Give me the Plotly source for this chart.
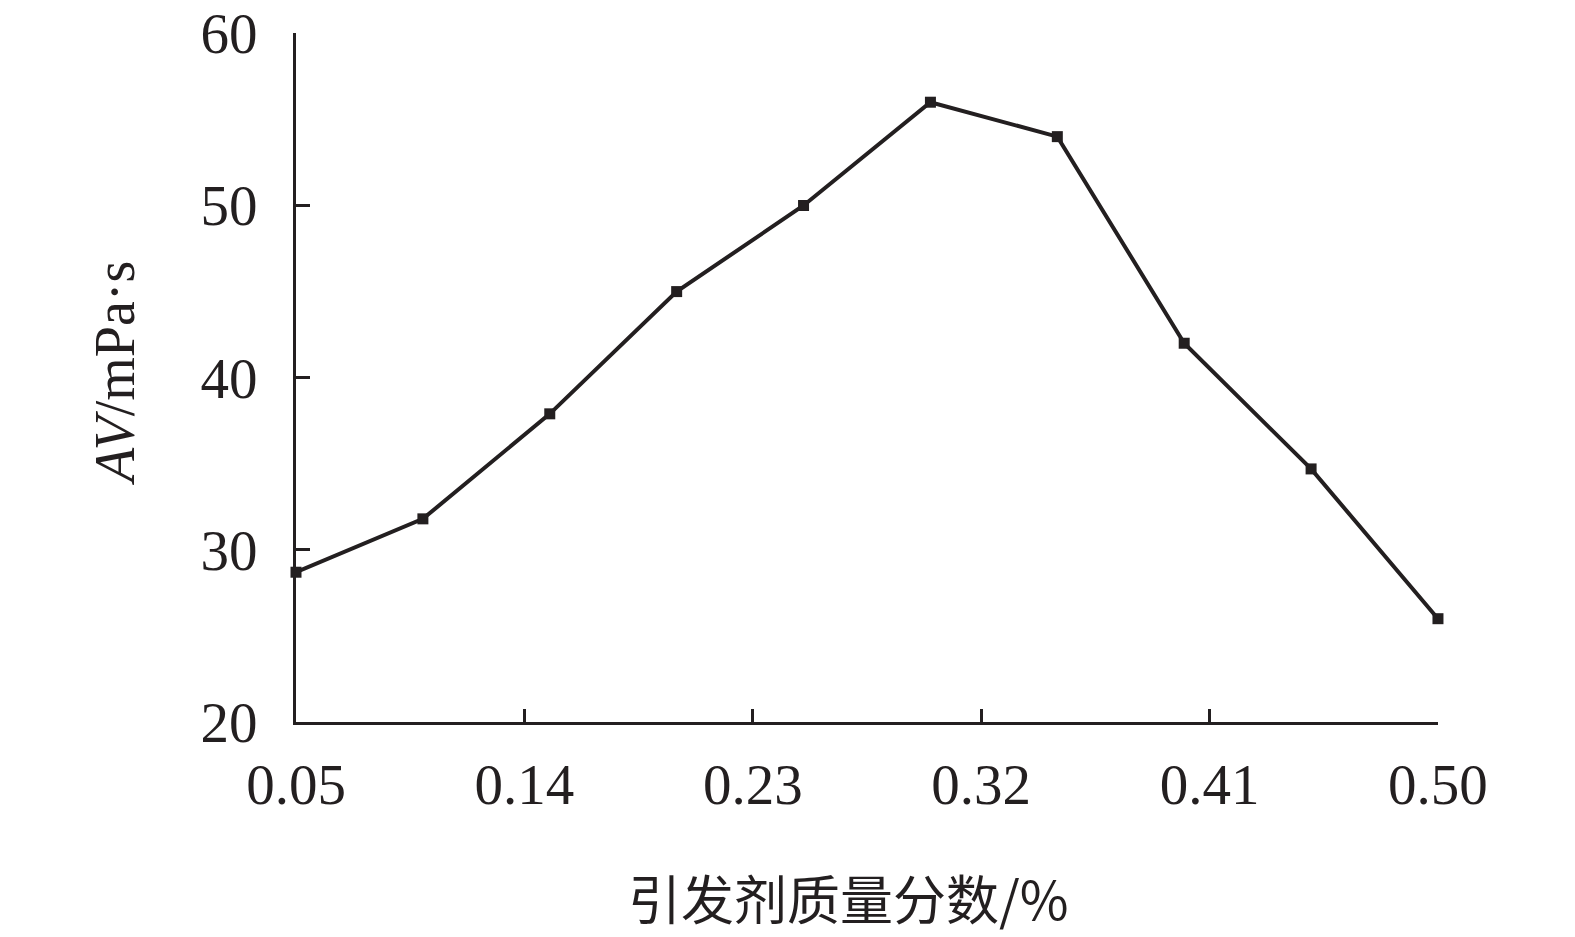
import plotly.graph_objects as go

x_vals = [0.05, 0.10, 0.15, 0.20, 0.25, 0.30, 0.35, 0.40, 0.45, 0.50]
av_vals = [28.7, 31.8, 37.9, 45.0, 50.0, 56.0, 54.0, 42.0, 34.7, 26.0]
x_ticks = [0.05, 0.14, 0.23, 0.32, 0.41, 0.50]
x_ticktext = ["0.05", "0.14", "0.23", "0.32", "0.41", "0.50"]
y_ticks = [20, 30, 40, 50, 60]

ink = "#231f20"
serif = "Liberation Serif, Times New Roman, Noto Sans CJK SC, serif"

fig = go.Figure()
fig.add_trace(go.Scatter(
    x=x_vals, y=av_vals, mode="lines+markers",
    line=dict(color=ink, width=4),
    marker=dict(symbol="square", size=11, color=ink),
    cliponaxis=False, showlegend=False,
))

fig.update_layout(
    width=1575, height=937,
    margin=dict(l=296, r=137, t=33, b=215, autoexpand=False),
    paper_bgcolor="white", plot_bgcolor="white",
    font=dict(family=serif, size=57, color=ink),
    xaxis=dict(
        range=[0.05, 0.50001], tickvals=x_ticks, ticktext=x_ticktext,
        showgrid=False, zeroline=False, showline=True, linecolor=ink, linewidth=3,
        ticks="inside", ticklen=13, tickwidth=2.5, tickcolor=ink,
        tickfont=dict(family=serif, size=57, color=ink),
        ticklabelstandoff=11, automargin=False,
    ),
    yaxis=dict(
        range=[20, 60.02], tickvals=y_ticks,
        showgrid=False, zeroline=False, showline=True, linecolor=ink, linewidth=3,
        ticks="inside", ticklen=14, tickwidth=2.5, tickcolor=ink,
        tickfont=dict(family=serif, size=57, color=ink),
        ticklabelstandoff=24, automargin=False,
    ),
    annotations=[
        dict(text="引发剂质量分数/%", xref="paper", yref="paper",
             x=0.4834, y=-0.254, xanchor="center", yanchor="middle",
             showarrow=False, font=dict(family="Noto Sans CJK SC, Liberation Serif", size=53, color=ink)),
        dict(text="<i>AV</i>/mPa·s", xref="paper", yref="paper",
             x=-0.158, y=0.506, xanchor="center", yanchor="middle", textangle=-90,
             showarrow=False, font=dict(family=serif, size=56, color=ink)),
    ],
)

fig.write_html("out.html", config={"displayModeBar": False},
               post_script="document.body.style.margin='0';")
